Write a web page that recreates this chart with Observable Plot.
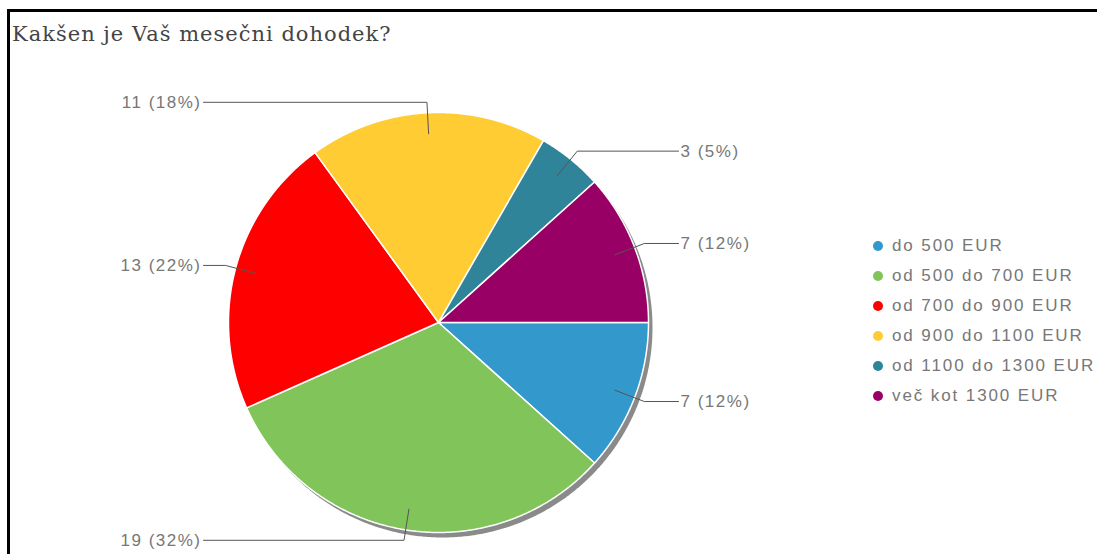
<!DOCTYPE html>
<html><head><meta charset="utf-8">
<script src="https://cdn.jsdelivr.net/npm/d3@7"></script>
<script src="https://cdn.jsdelivr.net/npm/@observablehq/plot@0.6"></script>
<style>
body{margin:0;background:#fff;width:1097px;height:554px;overflow:hidden;position:relative;font-family:"Liberation Sans",Arial,sans-serif;}
#frame{position:absolute;left:7px;top:9px;width:1090px;height:560px;border-top:3px solid #000;border-left:3px solid #000;box-sizing:border-box;z-index:5;pointer-events:none;}
#title{position:absolute;left:12px;top:22px;font-size:21px;font-family:"DejaVu Serif",serif;color:#444;white-space:nowrap;letter-spacing:1px;}
#chart{position:absolute;left:0;top:60px;}
#chart text{letter-spacing:1.5px;}
#legend{position:absolute;left:873px;top:231px;}
.row{height:30px;display:flex;align-items:center;font-size:17px;color:#777;letter-spacing:1.9px;white-space:nowrap;}
.sw{width:10px;height:10px;border-radius:50%;margin-right:9px;flex:none;}
</style></head><body>
<div id="title"></div>
<div id="chart"></div>
<div id="legend"></div>
<div id="frame"></div>
<script>
const title = "Kakšen je Vaš mesečni dohodek?";
const categories = ["do 500 EUR", "od 500 do 700 EUR", "od 700 do 900 EUR", "od 900 do 1100 EUR", "od 1100 do 1300 EUR", "več kot 1300 EUR"];
const counts = [7, 19, 13, 11, 3, 7];
const colors = ["#3399cc", "#80c45a", "#ff0000", "#ffcc33", "#2f8499", "#990066"];

// layout (pixels)
const W = 1097, H = 494, cx = 438, cy = 262, R = 210;

document.getElementById("title").textContent = title;

const total = d3.sum(counts);
let acc = 0;
const slices = counts.map((v, i) => {
  const a0 = acc / total * 2 * Math.PI; acc += v;
  const a1 = acc / total * 2 * Math.PI;
  return {cat: categories[i], v, a0, a1, mid: (a0 + a1) / 2, pct: Math.round(v / total * 100)};
});

const polys = [];
for (const s of slices) {
  polys.push({cat: s.cat, x: 0, y: 0});
  const n = Math.max(2, Math.ceil((s.a1 - s.a0) / 0.005));
  for (let k = 0; k <= n; k++) {
    const a = s.a0 + (s.a1 - s.a0) * k / n;
    polys.push({cat: s.cat, x: Math.cos(a), y: Math.sin(a)});
  }
  polys.push({cat: s.cat, x: 0, y: 0});
}
const circle = d3.range(0, 721).map(k => ({x: Math.cos(k / 720 * 2 * Math.PI), y: Math.sin(k / 720 * 2 * Math.PI)}));

const leaders = [], labels = [];
for (const s of slices) {
  const c = Math.cos(s.mid), sn = Math.sin(s.mid);
  const right = c >= 0;
  const ex = right ? 1.143 : -1.119;
  leaders.push({cat: s.cat, x: 0.9 * c, y: 0.9 * sn});
  leaders.push({cat: s.cat, x: 1.05 * c, y: 1.05 * sn});
  leaders.push({cat: s.cat, x: ex, y: 1.05 * sn});
  labels.push({x: ex, y: 1.05 * sn, right, text: `${s.v} (${s.pct}%)`});
}

const chart = Plot.plot({
  width: W, height: H, margin: 0,
  x: {domain: [-cx / R, (W - cx) / R], range: [0, W], axis: null},
  y: {domain: [-cy / R, (H - cy) / R], range: [0, H], axis: null},
  color: {domain: categories, range: colors},
  style: {background: "none", fontFamily: "'Liberation Sans', Arial, sans-serif", overflow: "visible"},
  marks: [
    Plot.line(circle, {x: "x", y: "y", fill: "#8a8a8a", stroke: "none", dx: 4, dy: 5}),
    Plot.line(polys, {x: "x", y: "y", z: "cat", fill: "cat", stroke: "white", strokeWidth: 1.5, strokeLinejoin: "round"}),
    Plot.line(leaders, {x: "x", y: "y", z: "cat", stroke: "#555", strokeWidth: 1}),
    Plot.text(labels.filter(d => d.right), {x: "x", y: "y", text: "text", textAnchor: "start", dx: 2, fontSize: 17, fill: "#777"}),
    Plot.text(labels.filter(d => !d.right), {x: "x", y: "y", text: "text", textAnchor: "end", dx: -2, fontSize: 17, fill: "#777"})
  ]
});
document.getElementById("chart").appendChild(chart);

const legend = d3.select("#legend");
categories.forEach((c, i) => {
  const row = legend.append("div").attr("class", "row");
  row.append("div").attr("class", "sw").style("background", colors[i]);
  row.append("span").text(c);
});
</script>
</body></html>
